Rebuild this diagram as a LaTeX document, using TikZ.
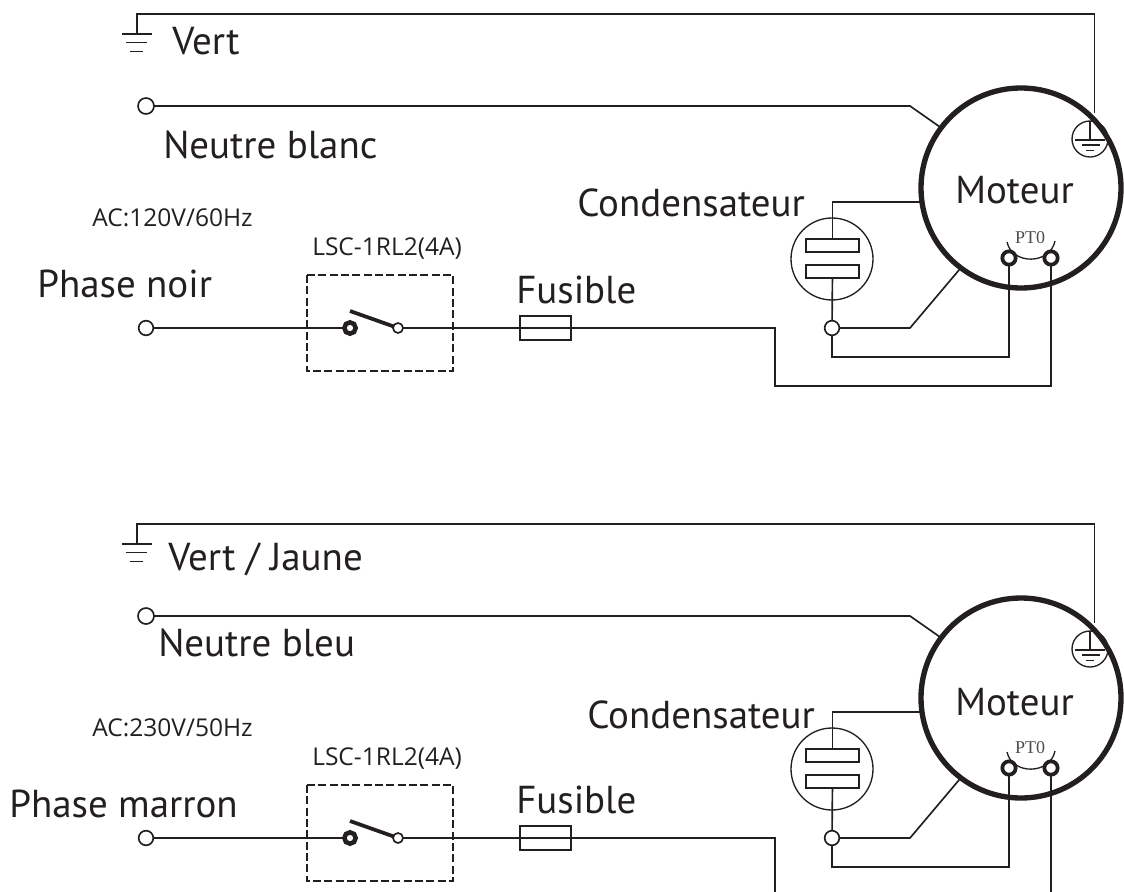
\documentclass[tikz,border=0pt]{standalone}
\usepackage{fontspec}
\setmainfont{PT Sans}
\newfontfamily\ptofont{Liberation Serif}
\newfontfamily\labelfont{Open Sans}
\definecolor{ink}{HTML}{231F20}
\newcommand{\bigfont}{\fontsize{29.2}{32}\selectfont}
\newcommand{\smallfont}{\labelfont\fontsize{18.4}{21}\selectfont}
\begin{document}
\begin{tikzpicture}[x=0.75pt,y=-0.75pt]
     % Define styles
     \tikzstyle{wire} = [ink, line width=1.25pt, line join=miter]
     \tikzstyle{motor} = [draw=ink, circle, line width=4pt, minimum size=150pt, inner sep=0pt, outer sep=0pt]
     \tikzstyle{ring} = [draw=ink, circle, line width=1pt, inner sep=0pt, outer sep=0pt]
     \tikzstyle{junction} = [draw=ink, fill=white, circle, line width=1.25pt, minimum size=11pt, inner sep=0pt, outer sep=0pt]
     \tikzstyle{terminal} = [draw=ink, fill=white, circle, line width=2.8pt, minimum size=10pt, inner sep=0pt, outer sep=0pt]
     \tikzstyle{plate} = [draw=ink, line width=1.25pt, minimum width=39.5pt, minimum height=9.5pt, inner sep=0pt, outer sep=0pt]
     \tikzstyle{fusebox} = [draw=ink, line width=1.1pt, minimum width=38pt, minimum height=18pt, inner sep=0pt, outer sep=0pt]
     \tikzstyle{relaybox} = [draw=ink, line width=1.1pt, dash pattern=on 6pt off 2.5pt]
     \tikzstyle{bigtext} = [ink, font=\bigfont, inner sep=0pt]
     \tikzstyle{smalltext} = [ink, font=\smallfont, inner sep=0pt]

     \useasboundingbox (0,0) rectangle (1124,892);

     % Both circuits, the second one 510 lower
     \foreach \c/\s in {a/0,b/510} {
          \begin{scope}[shift={(0,\s)}]
               % Motor
               \node[motor] (mot\c) at (1021,188) {};
               \node[ring, minimum size=27pt] (earth\c) at (1090,139) {};
               \draw[wire, line width=1pt] (1090,121) -- (1090,140);
               \draw[wire] (1075,140) -- (1105,140);
               \draw[wire] (1082,145) -- (1100,145);
               \draw[wire, line width=1.4pt] (1086,150.5) -- (1094,150.5);

               % PTO terminals
               \node[terminal] (pto1\c) at (1009,258) {};
               \node[terminal] (pto2\c) at (1051,258) {};
               \node[ink!80, font=\ptofont\fontsize{13.5}{15}\selectfont, inner sep=0pt] (ptolabel\c) at (1030,238) {PT0};
               \draw[wire, line width=1pt] (1007,242) .. controls (1012,265) and (1050,265) .. (1055,241);

               % Earth wire
               \coordinate (gnd\c) at (137,34);
               \coordinate (top\c) at (1094.5,14);
               \coordinate (hit\c) at (1094.5,113);
               \draw[wire] (gnd\c) |- (top\c) -- (hit\c);
               \draw[wire, line width=1.5pt] (122,34) -- (152,34);
               \draw[wire] (126,42.5) -- (147,42.5);
               \draw[wire, line width=1.4pt] (130,51.5) -- (143,51.5);

               % Neutral
               \node[junction, minimum size=12pt] (neu\c) at (146,106) {};
               \coordinate (neubend\c) at (910,106);
               \draw[wire] (neu\c) -- (neubend\c) -- (mot\c.143);

               % Capacitor
               \node[ring, minimum size=61.5pt] (cap\c) at (832,259) {};
               \node[plate] (plateup\c) at (832.5,245.5) {};
               \node[plate] (platelow\c) at (832.5,271.5) {};
               \node[junction] (capnode\c) at (832,328) {};
               \coordinate (capbend\c) at (910,328);
               \draw[wire] (mot\c.188) -| (plateup\c.north);
               \draw[wire] (platelow\c) -- (capnode\c);
               \draw[wire] (capnode\c) -- (capbend\c) -- (mot\c.233);
               \draw[wire] (capnode\c) |- (pto1\c |- 0,357) -- (pto1\c);

               % Phase, relay and fuse
               \node[junction] (pha\c) at (146,328) {};
               \node[terminal, line width=3.4pt, minimum size=8.5pt] (pivot\c) at (350,328) {};
               \node[junction, minimum size=7.5pt] (contact\c) at (398,328) {};
               \node[fusebox] (fuse\c) at (545.5,328) {};
               \coordinate (blade\c) at (350,311);
               \draw[relaybox] (307,275) rectangle (453,371);
               \draw[wire] (pha\c) -- (pivot\c);
               \draw[ink, line width=2.8pt] (blade\c) -- (contact\c);
               \draw[wire] (contact\c.east) -- (fuse\c.east);
          \end{scope}
     }

     % Wires from the fuse to the far terminal
     \coordinate (low1) at (775,386);
     \coordinate (low2) at (775,892);
     \coordinate (low3) at (1051,892);
     \draw[wire] (fusea.east) -| (low1) -| (pto2a);
     \draw[wire] (fuseb.east) -| (low2);
     \draw[wire] (pto2b) -- (low3);

     % Labels
     \node[bigtext, anchor=base west] (verta) at (172,55) {Vert};
     \node[bigtext, anchor=base west] (neutrea) at (163,158) {Neutre blanc};
     \node[smalltext, anchor=base west] (aca) at (92,226) {AC:120V/60Hz};
     \node[smalltext, anchor=base west] (lsca) at (312,255) {LSC-1RL2(4A)};
     \node[bigtext, anchor=base west] (phasea) at (37,297) {Phase noir};
     \node[bigtext, anchor=base west] (fusiblea) at (516,303) {Fusible};
     \node[bigtext, anchor=base west] (conda) at (577,216) {Condensateur};
     \node[bigtext, anchor=base west] (motlabela) at (955,203) {Moteur};

     \node[bigtext, anchor=base west] (vertb) at (168,570) {Vert / Jaune};
     \node[bigtext, anchor=base west] (neutreb) at (158,656) {Neutre bleu};
     \node[smalltext, anchor=base west] (acb) at (92,736) {AC:230V/50Hz};
     \node[smalltext, anchor=base west] (lscb) at (312,765) {LSC-1RL2(4A)};
     \node[bigtext, anchor=base west] (phaseb) at (9,817) {Phase marron};
     \node[bigtext, anchor=base west] (fusibleb) at (516,813) {Fusible};
     \node[bigtext, anchor=base west] (condb) at (587,728) {Condensateur};
     \node[bigtext, anchor=base west] (motlabelb) at (955,715) {Moteur};
\end{tikzpicture}
\end{document}
